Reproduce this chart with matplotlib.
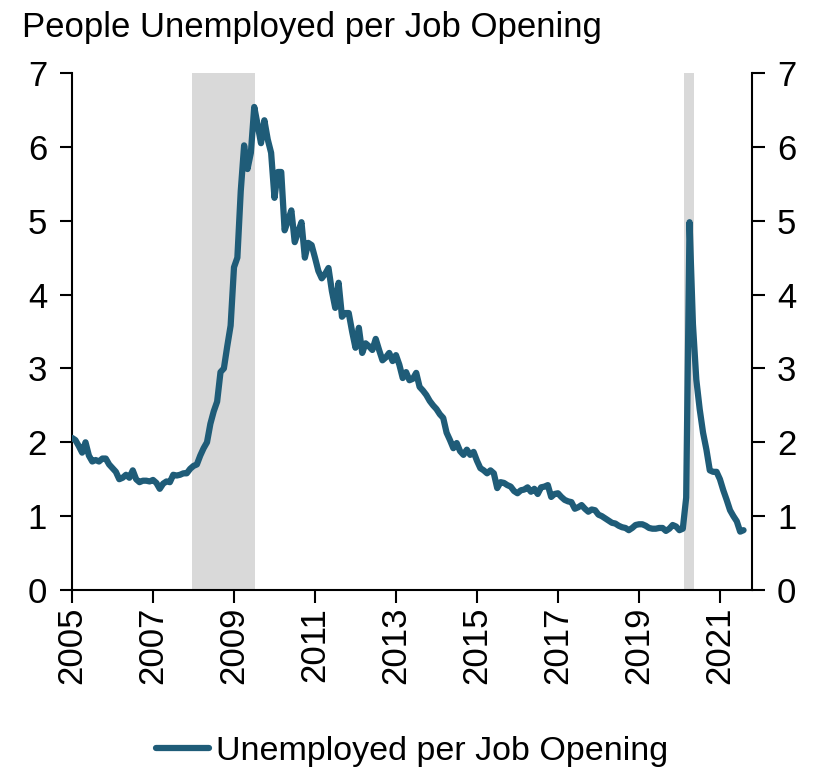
import matplotlib.pyplot as plt
import numpy as np

# Monthly ratio of unemployed persons to job openings, Jan 2005 - Aug 2021
ratio_by_year = {
    2005: [2.06, 2.03, 1.95, 1.86, 2.00, 1.82, 1.74, 1.76, 1.74, 1.78, 1.78, 1.70],
    2006: [1.65, 1.60, 1.50, 1.52, 1.56, 1.52, 1.62, 1.50, 1.46, 1.48, 1.48, 1.47],
    2007: [1.49, 1.45, 1.37, 1.44, 1.47, 1.46, 1.56, 1.55, 1.56, 1.58, 1.58, 1.64],
    2008: [1.68, 1.70, 1.82, 1.92, 2.00, 2.25, 2.42, 2.55, 2.95, 3.00, 3.30, 3.58],
    2009: [4.37, 4.50, 5.40, 6.02, 5.70, 5.92, 6.54, 6.30, 6.05, 6.36, 6.10, 5.92],
    2010: [5.31, 5.66, 5.66, 4.87, 5.00, 5.14, 4.71, 4.85, 4.98, 4.50, 4.70, 4.67],
    2011: [4.50, 4.32, 4.22, 4.28, 4.36, 4.05, 3.82, 4.16, 3.70, 3.75, 3.75, 3.50],
    2012: [3.28, 3.55, 3.21, 3.34, 3.30, 3.25, 3.40, 3.25, 3.11, 3.15, 3.21, 3.10],
    2013: [3.18, 3.05, 2.87, 2.95, 2.84, 2.86, 2.94, 2.75, 2.70, 2.64, 2.56, 2.50],
    2014: [2.45, 2.38, 2.33, 2.13, 2.03, 1.92, 1.99, 1.88, 1.83, 1.90, 1.83, 1.87],
    2015: [1.75, 1.65, 1.62, 1.58, 1.62, 1.58, 1.38, 1.46, 1.45, 1.42, 1.40, 1.34],
    2016: [1.31, 1.35, 1.36, 1.39, 1.33, 1.37, 1.30, 1.39, 1.40, 1.42, 1.26, 1.30],
    2017: [1.31, 1.26, 1.22, 1.20, 1.19, 1.10, 1.12, 1.15, 1.10, 1.06, 1.09, 1.08],
    2018: [1.02, 1.00, 0.97, 0.94, 0.91, 0.90, 0.87, 0.85, 0.84, 0.81, 0.84, 0.88],
    2019: [0.89, 0.89, 0.87, 0.84, 0.83, 0.83, 0.84, 0.84, 0.80, 0.83, 0.88, 0.86],
    2020: [0.81, 0.83, 1.25, 4.98, 3.60, 2.85, 2.45, 2.13, 1.90, 1.62, 1.60, 1.60],
    2021: [1.50, 1.35, 1.22, 1.08, 1.00, 0.93, 0.79, 0.81],
}

# Recession periods (decimal years)
recessions = [(2007.96, 2009.52), (2020.12, 2020.37)]

year_ticks = [2005, 2007, 2009, 2011, 2013, 2015, 2017, 2019, 2021]
value_ticks = [0, 1, 2, 3, 4, 5, 6, 7]

line_color = '#1f5c78'
shade_color = '#d9d9d9'

plt.rcParams['font.family'] = ['Liberation Sans', 'DejaVu Sans']

dates = []
values = []
for year, months in ratio_by_year.items():
    for i, v in enumerate(months):
        dates.append(year + i / 12)
        values.append(v)
dates = np.array(dates)
values = np.array(values)

fig = plt.figure(figsize=(8.24, 7.75), dpi=100)
ax = fig.add_axes([0.0874, 0.2387, 0.8252, 0.6671])

for start, end in recessions:
    ax.axvspan(start, end, color=shade_color, lw=0, zorder=0)

line, = ax.plot(dates, values, color=line_color, lw=4.5, solid_joinstyle='round',
                solid_capstyle='round', label='Unemployed per Job Opening', zorder=3)

ax.set_xlim(2005, 2021 + 9.5 / 12)
ax.set_ylim(0, 7)
ax.set_xticks(year_ticks)
ax.set_xticklabels([str(y) for y in year_ticks], rotation=90)
ax.set_yticks(value_ticks)

ax.spines['top'].set_visible(False)
for side in ['left', 'right', 'bottom']:
    ax.spines[side].set_linewidth(1.5)

ax.tick_params(axis='both', direction='out', length=9, width=1.5, labelsize=25)
ax.tick_params(axis='y', left=True, right=True, labelleft=True, labelright=True, pad=9)
ax.tick_params(axis='x', pad=3)

fig.text(0.027, 0.965, 'People Unemployed per Job Opening', fontsize=25,
         ha='left', va='center')

fig.legend(handles=[line], loc='center', bbox_to_anchor=(0.5, 0.03),
           frameon=False, fontsize=24.5, handlelength=1.55, handletextpad=0.2)

fig.savefig('out.png', dpi=100)
